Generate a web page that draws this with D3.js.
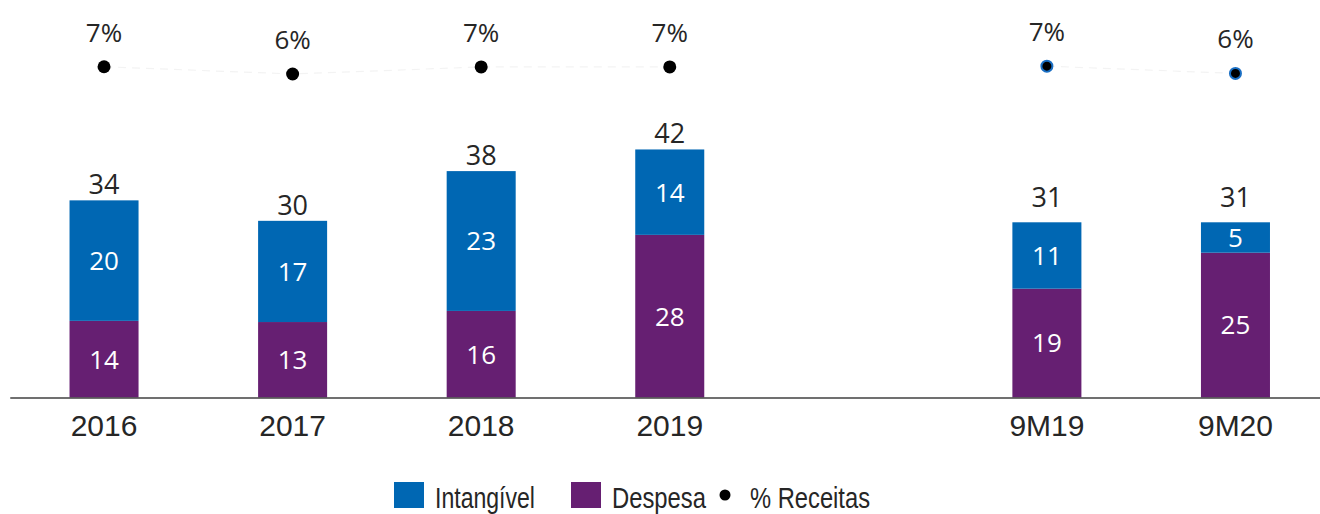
<!DOCTYPE html>
<html>
<head>
<meta charset="utf-8">
<script src="https://cdn.jsdelivr.net/npm/d3@7/dist/d3.min.js"></script>
<style>
  html, body { margin: 0; padding: 0; background: #fff; }
  svg { display: block; }
</style>
</head>
<body>
<svg id="chart" width="1320" height="514"></svg>
<script>
// ---- data ----
const categories = ["2016", "2017", "2018", "2019", "gap", "9M19", "9M20"];
const periods = ["2016", "2017", "2018", "2019", "9M19", "9M20"];
const despesa = [13.1, 12.9, 14.8, 27.8, 18.6, 24.75];
const intangivel = [20.6, 17.3, 23.9, 14.6, 11.35, 5.2];
const despesaLabels = ["14", "13", "16", "28", "19", "25"];
const intangivelLabels = ["20", "17", "23", "14", "11", "5"];
const totalLabels = ["34", "30", "38", "42", "31", "31"];
const receitasPct = [6.98, 6.35, 6.96, 6.96, 7.03, 6.4];
const lineGroups = [["2016", "2017", "2018", "2019"], ["9M19", "9M20"]];
const seriesNames = ["Intangível", "Despesa", "% Receitas"];

const colors = { intangivel: "#0067b3", despesa: "#661f72", dot: "#000000", dotStroke: "#1a6fc4", text: "#262626" };

const svg = d3.select("#chart");

const x = d3.scaleBand()
  .domain(categories)
  .range([9.75, 1329.75])
  .paddingInner(0.634)
  .paddingOuter(0.317);

const y = d3.scaleLinear().domain([0, 50]).range([397.5, 105]);
const y2 = d3.scaleLinear().domain([6, 7]).range([78, 66.5]);

const rows = periods.map((p, i) => ({
  p, d: despesa[i], it: intangivel[i],
  dl: despesaLabels[i], il: intangivelLabels[i], tl: totalLabels[i],
  pct: receitasPct[i], nine: p.startsWith("9M")
}));

const valueFont = "'Open Sans', 'Noto Sans', sans-serif";
const arial = "'Liberation Sans', Arial, sans-serif";

// bars
const g = svg.append("g");
g.selectAll("rect.desp").data(rows).join("rect")
  .attr("class", "desp")
  .attr("x", r => x(r.p)).attr("width", x.bandwidth())
  .attr("y", r => y(r.d)).attr("height", r => y(0) - y(r.d))
  .attr("fill", colors.despesa);
g.selectAll("rect.int").data(rows).join("rect")
  .attr("class", "int")
  .attr("x", r => x(r.p)).attr("width", x.bandwidth())
  .attr("y", r => y(r.d + r.it)).attr("height", r => y(r.d) - y(r.d + r.it))
  .attr("fill", colors.intangivel);

// inner labels
g.selectAll("text.dl").data(rows).join("text")
  .attr("class", "dl")
  .attr("x", r => x(r.p) + x.bandwidth() / 2)
  .attr("y", r => (y(0) + y(r.d)) / 2)
  .attr("dy", "0.36em")
  .attr("text-anchor", "middle")
  .attr("font-family", valueFont).attr("font-size", 26)
  .attr("fill", "#fff")
  .text(r => r.dl);
g.selectAll("text.il").data(rows).join("text")
  .attr("class", "il")
  .attr("x", r => x(r.p) + x.bandwidth() / 2)
  .attr("y", r => (y(r.d) + y(r.d + r.it)) / 2)
  .attr("dy", "0.36em")
  .attr("text-anchor", "middle")
  .attr("font-family", valueFont).attr("font-size", 26)
  .attr("fill", "#fff")
  .text(r => r.il);
// totals
g.selectAll("text.tl").data(rows).join("text")
  .attr("class", "tl")
  .attr("x", r => x(r.p) + x.bandwidth() / 2)
  .attr("y", r => y(r.d + r.it) - (r.nine ? 15 : 6))
  .attr("text-anchor", "middle")
  .attr("font-family", valueFont).attr("font-size", 27)
  .attr("fill", colors.text)
  .text(r => r.tl);

// axis
const axis = d3.axisBottom(x)
  .tickSize(0).tickSizeOuter(0).tickPadding(17)
  .tickFormat(d => d === "gap" ? "" : d);
const ax = svg.append("g").attr("transform", `translate(0,${y(0)})`).call(axis);
ax.select(".domain").attr("stroke", "#404040").attr("stroke-width", 1.6);
ax.selectAll("text")
  .attr("font-family", arial).attr("font-size", 30).attr("fill", colors.text);

// faint connecting line for % receitas
const byP = Object.fromEntries(rows.map(r => [r.p, r]));
const line = d3.line().x(p => x(p) + x.bandwidth() / 2).y(p => y2(byP[p].pct));
svg.append("g").selectAll("path").data(lineGroups).join("path")
  .attr("d", line)
  .attr("fill", "none")
  .attr("stroke", "#f3f3f3")
  .attr("stroke-width", 1.2)
  .attr("stroke-dasharray", "8,6");

// dots
svg.append("g").selectAll("circle").data(rows).join("circle")
  .attr("cx", r => x(r.p) + x.bandwidth() / 2)
  .attr("cy", r => y2(r.pct))
  .attr("r", r => r.nine ? 5.5 : 6.5)
  .attr("fill", colors.dot)
  .attr("stroke", r => r.nine ? colors.dotStroke : "none")
  .attr("stroke-width", r => r.nine ? 2 : 0);

svg.append("g").selectAll("text").data(rows).join("text")
  .attr("x", r => x(r.p) + x.bandwidth() / 2)
  .attr("y", r => y2(r.pct) - 25)
  .attr("text-anchor", "middle")
  .attr("font-family", valueFont).attr("font-size", 26)
  .attr("fill", colors.text)
  .text(r => Math.round(r.pct) + "%");

// legend
const narrow = "'Liberation Sans Narrow', 'Arial Narrow', 'Liberation Sans', Arial, sans-serif";
const leg = svg.append("g");
const legItems = [
  { name: seriesNames[0], type: "rect", color: colors.intangivel, x: 394, tw: 100 },
  { name: seriesNames[1], type: "rect", color: colors.despesa, x: 571, tw: 94 },
  { name: seriesNames[2], type: "dot", color: colors.dot, x: 719, tw: 120 }
];
legItems.forEach(it => {
  if (it.type === "rect") {
    leg.append("rect").attr("x", it.x).attr("y", 482).attr("width", 30).attr("height", 26).attr("fill", it.color);
    leg.append("text").attr("x", it.x + 41).attr("y", 507.5)
      .attr("font-family", narrow).attr("font-size", 29).attr("fill", colors.text)
      .attr("textLength", it.tw).attr("lengthAdjust", "spacingAndGlyphs")
      .text(it.name);
  } else {
    leg.append("circle").attr("cx", it.x + 6).attr("cy", 495).attr("r", 5.5).attr("fill", it.color);
    leg.append("text").attr("x", it.x + 31).attr("y", 507.5)
      .attr("font-family", narrow).attr("font-size", 29).attr("fill", colors.text)
      .attr("textLength", it.tw).attr("lengthAdjust", "spacingAndGlyphs")
      .text(it.name);
  }
});
</script>
</body>
</html>
